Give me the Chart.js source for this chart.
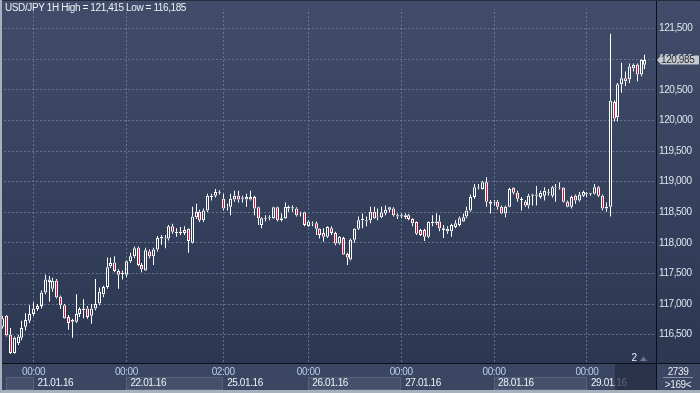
<!DOCTYPE html>
<html><head><meta charset="utf-8">
<script src="https://cdn.jsdelivr.net/npm/chart.js@4.4.1/dist/chart.umd.min.js"></script>
<style>
html,body{margin:0;padding:0;background:#3b4762;}
#wrap{position:relative;width:700px;height:393px;overflow:hidden;}
canvas{display:block;}
</style></head><body>
<div id="wrap"><canvas id="c" width="700" height="393"></canvas></div>
<script>
const titleText = 'USD/JPY 1H High = 121,415 Low = 116,185';
const openV = [116.63,116.81,116.50,116.20,116.36,116.45,116.63,116.73,116.84,116.92,
116.97,117.19,117.36,117.25,117.38,117.12,116.98,116.79,116.71,116.71,
116.84,116.90,116.93,116.81,116.93,117.01,117.16,117.28,117.62,117.68,
117.54,117.49,117.48,117.70,117.78,117.92,117.64,117.55,117.86,117.78,
117.89,118.07,118.07,118.07,118.27,118.16,118.18,118.16,118.23,118.00,
118.42,118.51,118.37,118.53,118.77,118.77,118.82,118.72,118.58,118.59,
118.71,118.77,118.72,118.71,118.71,118.75,118.58,118.29,118.39,118.40,
118.40,118.58,118.40,118.40,118.59,118.56,118.56,118.47,118.50,118.27,
118.31,118.32,118.23,118.16,118.10,118.24,118.16,117.99,118.08,117.82,
117.73,118.05,118.23,118.37,118.37,118.37,118.51,118.42,118.42,118.48,
118.54,118.56,118.43,118.45,118.45,118.45,118.39,118.34,118.21,118.21,
118.10,118.32,118.32,118.35,118.24,118.19,118.19,118.26,118.29,118.35,
118.43,118.53,118.75,118.90,118.88,118.99,118.67,118.66,118.67,118.59,
118.48,118.59,118.90,118.82,118.70,118.67,118.61,118.77,118.77,118.75,
118.77,118.83,118.77,118.90,118.90,118.90,118.67,118.59,118.77,118.69,
118.77,118.80,118.82,118.80,118.91,118.77,118.56,118.59,120.30,120.05,
120.59,120.69,120.67,120.85,120.91,120.75,120.91];
const highV = [116.81,116.82,116.61,116.47,116.50,116.73,116.85,116.98,117.03,117.00,
117.22,117.48,117.46,117.43,117.41,117.14,117.00,116.82,116.76,117.16,
116.95,117.08,116.97,117.00,117.41,117.27,117.30,117.76,117.76,117.78,
117.57,117.55,117.71,117.84,117.94,117.94,117.67,117.92,117.89,117.92,
118.11,118.13,118.13,118.29,118.31,118.24,118.26,118.27,118.24,118.59,
118.64,118.54,118.56,118.80,118.80,118.88,118.86,118.80,118.64,118.80,
118.85,118.85,118.77,118.80,118.85,118.77,118.59,118.42,118.45,118.45,
118.59,118.59,118.48,118.66,118.61,118.61,118.58,118.51,118.51,118.37,
118.35,118.35,118.24,118.24,118.27,118.27,118.18,118.11,118.10,117.84,
118.07,118.24,118.43,118.48,118.43,118.59,118.59,118.56,118.59,118.61,
118.59,118.58,118.48,118.48,118.48,118.47,118.40,118.35,118.23,118.23,
118.35,118.45,118.48,118.45,118.29,118.27,118.31,118.37,118.43,118.48,
118.59,118.79,118.96,118.96,119.01,119.07,118.70,118.70,118.70,118.61,
118.61,118.90,118.91,118.85,118.75,118.70,118.80,118.80,118.93,118.85,
118.91,118.88,118.93,118.96,118.99,118.91,118.69,118.77,118.79,118.83,
118.85,118.83,118.82,118.96,118.93,118.79,118.66,121.415,120.33,120.61,
120.94,120.80,120.93,120.93,120.93,121.00,121.07];
const lowV = [116.60,116.47,116.185,116.19,116.33,116.41,116.57,116.69,116.81,116.89,
116.93,117.16,117.04,117.20,117.09,116.92,116.76,116.58,116.45,116.69,
116.79,116.77,116.76,116.68,116.90,116.98,117.11,117.25,117.59,117.52,
117.25,117.40,117.44,117.67,117.75,117.62,117.52,117.54,117.75,117.64,
117.86,117.97,117.91,118.04,118.15,118.10,118.13,118.13,117.84,117.99,
118.39,118.34,118.34,118.50,118.69,118.74,118.79,118.53,118.53,118.45,
118.67,118.66,118.66,118.59,118.69,118.45,118.29,118.24,118.35,118.37,
118.39,118.35,118.35,118.39,118.51,118.51,118.43,118.43,118.27,118.26,
118.27,118.13,118.07,118.02,118.08,118.13,117.96,117.97,117.80,117.64,
117.71,118.00,118.21,118.24,118.27,118.32,118.39,118.37,118.40,118.45,
118.50,118.43,118.39,118.40,118.39,118.37,118.27,118.13,118.11,118.03,
118.08,118.27,118.29,118.19,118.08,118.15,118.10,118.24,118.27,118.34,
118.40,118.51,118.72,118.87,118.87,118.59,118.48,118.61,118.54,118.47,
118.42,118.58,118.79,118.67,118.53,118.59,118.56,118.61,118.61,118.72,
118.69,118.77,118.74,118.67,118.87,118.66,118.58,118.56,118.64,118.67,
118.75,118.75,118.77,118.79,118.75,118.53,118.51,118.43,119.98,119.98,
120.45,120.56,120.61,120.80,120.64,120.72,120.84];
const closeV = [116.77,116.49,116.20,116.45,116.47,116.61,116.74,116.84,116.93,116.97,
117.19,117.40,117.40,117.38,117.11,116.98,116.77,116.69,116.74,116.84,
116.92,116.93,116.79,116.93,117.00,117.20,117.28,117.60,117.67,117.54,
117.48,117.51,117.70,117.78,117.91,117.64,117.57,117.88,117.78,117.89,
118.08,118.10,118.08,118.27,118.18,118.18,118.16,118.21,118.03,118.43,
118.51,118.37,118.53,118.77,118.75,118.83,118.83,118.56,118.59,118.72,
118.77,118.71,118.74,118.75,118.75,118.56,118.40,118.40,118.40,118.42,
118.58,118.37,118.37,118.59,118.56,118.58,118.45,118.48,118.29,118.35,
118.32,118.23,118.13,118.10,118.26,118.16,117.99,118.10,117.81,117.76,
118.05,118.23,118.37,118.39,118.35,118.51,118.40,118.43,118.50,118.54,
118.58,118.45,118.45,118.43,118.42,118.39,118.32,118.15,118.13,118.10,
118.34,118.34,118.35,118.24,118.21,118.23,118.29,118.32,118.40,118.42,
118.53,118.75,118.91,118.91,118.99,118.67,118.64,118.67,118.59,118.48,
118.59,118.88,118.82,118.72,118.72,118.61,118.77,118.79,118.79,118.82,
118.85,118.82,118.91,118.91,118.91,118.67,118.59,118.75,118.69,118.79,
118.83,118.82,118.80,118.91,118.77,118.56,118.59,120.32,120.03,120.59,
120.69,120.64,120.88,120.91,120.75,120.99,120.985];
const xTickIndex = [8, 32, 57, 79, 103, 127, 151];
const xTickTimes = ['00:00','00:00','02:00','00:00','00:00','00:00','00:00'];
const xTickDates = ['21.01.16','22.01.16','25.01.16','26.01.16','27.01.16','28.01.16','29.01.16'];
const yTickValues = [116.5,117.0,117.5,118.0,118.5,119.0,119.5,120.0,120.5,121.0,121.5];
const lastPrice = 120.985;
const barCountText = '2739';
const visibleText = '>169<';

const fmt = v => v.toFixed(3).replace('.', ',');
const upper = openV.map((o,i)=>({x:i, y:[Math.max(o,closeV[i]), highV[i]]}));
const lower = openV.map((o,i)=>({x:i, y:[lowV[i], Math.min(o,closeV[i])]}));
const body = openV.map((o,i)=>({x:i, y:[o, closeV[i]]}));
const bodyBg = openV.map((o,i)=> closeV[i] < o ? '#e5123d' : 'rgba(0,0,0,0)');

Chart.defaults.font.family = '"Liberation Sans", Arial, sans-serif';
Chart.defaults.font.size = 10;

const canvasEl = document.getElementById('c');
function dashPattern(vertical){
  const c = document.createElement('canvas'); c.width = 4; c.height = 4;
  const x = c.getContext('2d'); x.fillStyle = 'rgba(128,145,176,0.62)';
  if (vertical) x.fillRect(0,0,4,2); else x.fillRect(0,0,2,4);
  return canvasEl.getContext('2d').createPattern(c,'repeat');
}
const gridV = dashPattern(true);
const gridH = dashPattern(false);

const snap = {
  id:'snap',
  afterDatasetsUpdate(chart){
    chart.data.datasets.forEach((ds,di)=>{
      chart.getDatasetMeta(di).data.forEach(el=>{ el.x = Math.round(el.x - 0.5) + 0.5; });
    });
  }
};

const deco = {
  id:'deco',
  beforeDraw(chart){
    const {ctx, chartArea:a} = chart;
    const xs = chart.scales.x;
    ctx.save();
    const g = ctx.createLinearGradient(0,0,0,a.bottom);
    g.addColorStop(0,'#404c69'); g.addColorStop(1,'#2c3752');
    ctx.fillStyle = g; ctx.fillRect(0,0,700,a.bottom);
    ctx.fillStyle = '#3b4762'; ctx.fillRect(0,a.bottom,700,393-a.bottom);
    const p = xTickIndex.map(v=>Math.round(xs.getPixelForValue(v)));
    const cells = [[a.left+4,p[0]],[p[1],p[2]],[p[3],p[4]],[p[5],p[6]]];
    cells.forEach(([l,r])=>{
      ctx.fillStyle='#45516b'; ctx.fillRect(l,377,r-l,13);
      ctx.strokeStyle='#56627c'; ctx.lineWidth=1; ctx.strokeRect(l+0.5,377.5,r-l-1,12);
    });
    ctx.restore();
    ctx.letterSpacing = '-0.4px';
  },
  afterDraw(chart){
    const {ctx, chartArea:a} = chart;
    ctx.save();
    ctx.fillStyle='rgba(36,44,64,0.72)';
    ctx.fillRect(615,a.bottom,a.right-615,390-a.bottom);
    ctx.fillStyle='#0b0f18';
    ctx.fillRect(0,a.bottom,700,1);
    ctx.fillRect(a.right,0,1,393);
    ctx.fillStyle='#252c3d'; ctx.fillRect(0,0,700,1);
    ctx.fillStyle='#a9b0bd';
    ctx.fillRect(0,0,2,393);
    ctx.fillRect(0,390,700,3);
    ctx.font='10px "Liberation Sans", Arial, sans-serif';
    ctx.letterSpacing='-0.4px';
    ctx.fillStyle='#eef1f6'; ctx.textBaseline='middle'; ctx.textAlign='left';
    ctx.fillText(titleText,5,8.5);
    const yp = chart.scales.y.getPixelForValue(lastPrice);
    ctx.fillStyle='#c6cad1';
    ctx.beginPath();
    ctx.moveTo(a.right+1,yp); ctx.lineTo(a.right+5,yp-4.5); ctx.lineTo(699,yp-4.5);
    ctx.lineTo(699,yp+4.5); ctx.lineTo(a.right+5,yp+4.5); ctx.closePath(); ctx.fill();
    ctx.fillStyle='#2a2d33';
    ctx.fillText(fmt(lastPrice),a.right+5,yp+0.5);
    ctx.fillStyle='#e8ecf2'; ctx.textAlign='center';
    ctx.fillText(barCountText,678,372);
    ctx.fillText(visibleText,678,385);
    ctx.fillStyle='#8c95a6'; ctx.fillRect(663,377,30,1);
    ctx.fillStyle='#e8ecf2'; ctx.fillText('2',634,358.5);
    ctx.fillStyle='#6b7690';
    ctx.beginPath(); ctx.moveTo(640,361); ctx.lineTo(643.5,356.5); ctx.lineTo(647,361); ctx.closePath(); ctx.fill();
    ctx.restore();
    ctx.letterSpacing='0px';
  }
};

const xCommon = {
  type:'linear', min:-0.155, max:168.85, offset:false,
  afterBuildTicks: s => { s.ticks = xTickIndex.map(v=>({value:v})); }
};

new Chart(canvasEl, {
  type:'bar',
  data:{ datasets:[
    {data:upper, backgroundColor:'#ffffff', barThickness:1, grouped:false, inflateAmount:0, borderWidth:0, order:3},
    {data:lower, backgroundColor:'#ffffff', barThickness:1, grouped:false, inflateAmount:0, borderWidth:0, order:2},
    {data:body, backgroundColor:bodyBg, borderColor:'#ffffff', borderWidth:1, borderSkipped:false, barThickness:3, grouped:false, inflateAmount:0, order:1}
  ]},
  options:{
    responsive:false, animation:false, events:[],
    layout:{padding:{left:2, top:1, right:0, bottom:0}},
    plugins:{legend:{display:false}, tooltip:{enabled:false}},
    scales:{
      x:{...xCommon, position:'bottom', weight:0,
        afterFit: s => { s.height = 13; },
        grid:{display:true, offset:false, color:gridV, drawTicks:false, lineWidth:1},
        border:{display:false},
        ticks:{padding:3, color:'#b9cdea', maxRotation:0, autoSkip:false,
          callback:(v)=> xTickTimes[xTickIndex.indexOf(v)] ?? ''}},
      x2:{...xCommon, position:'bottom', weight:1,
        afterFit: s => { s.height = 17; },
        grid:{display:false, offset:false, drawTicks:false}, border:{display:false},
        ticks:{padding:1, align:'start', labelOffset:4, color:'#eef1f6', maxRotation:0, autoSkip:false,
          callback:(v)=> xTickDates[xTickIndex.indexOf(v)] ?? ''}},
      y:{type:'linear', position:'right', min:116.038, max:121.819,
        afterFit: s => { s.width = 44; },
        afterBuildTicks: s => { s.ticks = yTickValues.map(v=>({value:v})); },
        grid:{color:gridH, drawTicks:false},
        border:{display:false},
        ticks:{padding:3, color:'#dfe5ef', callback: v => fmt(v)}}
    }
  },
  plugins:[snap, deco]
});
</script>
</body></html>
